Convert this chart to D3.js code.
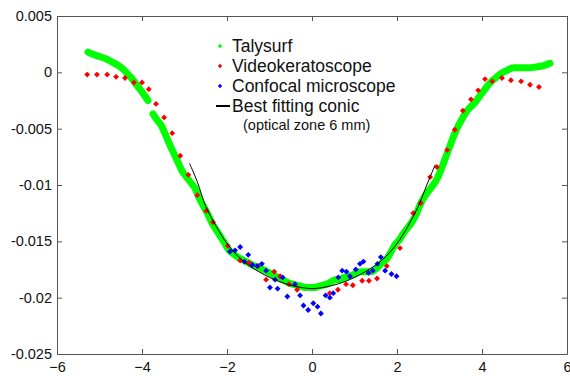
<!DOCTYPE html>
<html>
<head>
<meta charset="utf-8">
<script src="https://cdn.jsdelivr.net/npm/d3@7"></script>
<style>
  body { margin: 0; background: #fff; }
  svg text { font-family: "Liberation Sans", Arial, sans-serif; fill: #111; }
</style>
</head>
<body>
<div id="viz"></div>
<script>
// Talysurf profile (null y = break in the trace)
const talysurfX = [-5.27, -5.15, -5.0, -4.85, -4.7, -4.55, -4.45, -4.35, -4.25, -4.15, -4.05, -3.95, -3.86, null,
  -3.74, -3.65, -3.55, -3.45, -3.35, -3.25, -3.15, -3.05, -2.95, -2.85, -2.75, -2.65, -2.55, -2.45, -2.35, -2.25,
  -2.15, -2.05, -1.95, -1.85, -1.75, -1.65, -1.55, -1.45, -1.35, -1.25, -1.15, -1.05, -0.95, -0.85, -0.75, -0.65,
  -0.55, -0.45, -0.35, -0.25, -0.15, -0.05, 0.05, 0.15, 0.25, 0.35, 0.45, 0.55, 0.65, 0.75, 0.85, 0.95, 1.05, 1.15,
  1.25, 1.35, 1.45, 1.55, 1.65, 1.75, 1.85, 1.95, 2.05, 2.15, 2.25, 2.35, 2.45, 2.55, 2.65, 2.75, 2.85, 2.95, 3.05,
  3.15, 3.25, 3.35, 3.45, 3.55, 3.65, 3.75, 3.85, 3.95, 4.05, 4.15, 4.25, 4.35, 4.45, 4.55, 4.65, 4.75, 4.9, 5.1,
  5.3, 5.45, 5.6];
const talysurfY = [0.0018, 0.0016, 0.0014, 0.0012, 0.0009, 0.0006, 0.0003, -0.0001, -0.0005, -0.0010, -0.0015, -0.0020, -0.0025, null,
  -0.0037, -0.0042, -0.0047, -0.0055, -0.0064, -0.0072, -0.0080, -0.0088, -0.0093, -0.0098, -0.0103, -0.0112, -0.0119, -0.0126, -0.0134, -0.0140,
  -0.0146, -0.0152, -0.0158, -0.0161, -0.0164, -0.0166, -0.0168, -0.0170, -0.0172, -0.0173, -0.0175, -0.0177, -0.0179, -0.0181, -0.0183, -0.0185,
  -0.0187, -0.0188, -0.0189, -0.0190, -0.0191, -0.0191, -0.0191, -0.0190, -0.0189, -0.0188, -0.0186, -0.0184, -0.0184, -0.0182, -0.0181, -0.0180, -0.0178, -0.0177,
  -0.0177, -0.0177, -0.0176, -0.0173, -0.0169, -0.0166, -0.0160, -0.0153, -0.0149, -0.0143, -0.0138, -0.0133, -0.0126, -0.0117, -0.0110, -0.0105, -0.0100, -0.0094, -0.0085,
  -0.0075, -0.0065, -0.0055, -0.0047, -0.0040, -0.0034, -0.0030, -0.0026, -0.0021, -0.0016, -0.0011, -0.0007, -0.0004, -0.0001, 0.0001, 0.0003, 0.0004, 0.0004, 0.0004,
  0.0005, 0.0006, 0.0008];

// Videokeratoscope
const videoX = [-5.29, -5.06, -4.82, -4.61, -4.4, -4.19, -4.0, -3.84, -3.67, -3.48, -3.29, -3.1, -2.91, -2.7, -2.49, -2.33,
  -1.98, -1.69, -1.48, -1.27, -1.08, -0.89, -0.75, -0.54, -0.35, 0.42, 0.61, 0.8, 0.96, 1.18, 1.34, 1.53, 1.76,
  2.07, 2.38, 2.56, 2.78, 2.94, 3.18, 3.36, 3.55, 3.74, 3.91, 4.07, 4.24, 4.47, 4.68, 4.92, 5.13, 5.34];
const videoY = [-0.0002, -0.0002, -0.0002, -0.0004, -0.0005, -0.0009, -0.0009, -0.0015, -0.0028, -0.0040, -0.0054, -0.0074, -0.0091, -0.0109, -0.0123, -0.0133,
  -0.0154, -0.0167, -0.0169, -0.0172, -0.0184, -0.0177, -0.0181, -0.0188, -0.0193, -0.0196, -0.0193, -0.0188, -0.0189, -0.0185, -0.0185, -0.0183, -0.0172,
  -0.0156, -0.0125, -0.0116, -0.0093, -0.0084, -0.0069, -0.0051, -0.0034, -0.0024, -0.0016, -0.0006, -0.0008, -0.0005, -0.0007, -0.0008, -0.0011, -0.0013];

// Confocal microscope
const confocalX = [-1.93, -1.81, -1.69, -1.5, -1.59, -1.4, -1.29, -1.18, -1.08, -0.99, -0.81, -0.87, -0.69, -0.58, -0.4,
  -0.28, -0.2, -0.09, 0.03, 0.13, 0.21, 0.32, 0.42, 0.5, 0.62, 0.71, 0.81, 0.89, 1.03, 1.13, 1.21, 1.33, 1.43, 1.54,
  1.62, 1.72, 1.87, 1.99];
const confocalY = [-0.0159, -0.0158, -0.0155, -0.0162, -0.0168, -0.0171, -0.0172, -0.0170, -0.0176, -0.0191, -0.0192, -0.0184, -0.0182, -0.0199, -0.0188,
  -0.0198, -0.0207, -0.0211, -0.0205, -0.0208, -0.0214, -0.0198, -0.0200, -0.0196, -0.0182, -0.0176, -0.0177, -0.0181, -0.0175, -0.0170, -0.0168, -0.0178, -0.0176, -0.0170,
  -0.0164, -0.0176, -0.0179, -0.0181];

// Best fitting conic
const conicX = [-2.88, -2.7, -2.5, -2.25, -2.0, -1.75, -1.5, -1.25, -1.0, -0.75, -0.5, -0.25, 0, 0.25, 0.5, 0.75, 1.0,
  1.25, 1.5, 1.75, 2.0, 2.25, 2.5, 2.7, 2.9];
const conicY = [-0.0081, -0.0097, -0.0119, -0.0137, -0.0152, -0.0163, -0.0171, -0.0177, -0.0182, -0.0186, -0.0189, -0.0191, -0.0192, -0.0191, -0.0189, -0.0186, -0.0182,
  -0.0177, -0.0171, -0.0163, -0.0152, -0.0137, -0.0119, -0.0100, -0.0082];

const xTicks = [-6, -4, -2, 0, 2, 4, 6];
const yTicks = [0.005, 0, -0.005, -0.01, -0.015, -0.02, -0.025];
const yTickLabels = ['0.005', '0', '-0.005', '-0.01', '-0.015', '-0.02', '-0.025'];
const legendLabels = ['Talysurf', 'Videokeratoscope', 'Confocal microscope', 'Best fitting conic'];
const legendColors = ['#00ff00', '#ff0000', '#0000ff', '#000000'];
const legendNote = '(optical zone 6 mm)';

const width = 570, height = 376;
const margin = { top: 16, right: 3, bottom: 22, left: 57 };

const svg = d3.select('#viz').append('svg')
  .attr('width', width)
  .attr('height', height);

const xScale = d3.scaleLinear().domain([-6, 6]).range([margin.left, width - margin.right]);
const yScale = d3.scaleLinear().domain([-0.025, 0.005]).range([height - margin.bottom, margin.top]);

const zip = (xs, ys) => xs.map((x, i) => ({ x: x, y: ys[i] }));

// Talysurf as a thick band
const tLine = d3.line()
  .defined(d => d.y !== null)
  .x(d => xScale(d.x))
  .y(d => yScale(d.y))
  .curve(d3.curveMonotoneX);

svg.append('path')
  .datum(zip(talysurfX, talysurfY))
  .attr('d', tLine)
  .style('fill', 'none')
  .style('stroke', '#00ff00')
  .style('stroke-width', 7)
  .style('stroke-linecap', 'round')
  .style('stroke-linejoin', 'round');

const diamond = d3.symbol().type(d3.symbolDiamond2).size(22);

svg.append('g').selectAll('path')
  .data(zip(videoX, videoY))
  .enter().append('path')
  .attr('d', diamond)
  .attr('transform', d => `translate(${xScale(d.x)},${yScale(d.y)})`)
  .style('fill', '#ff0000');

svg.append('g').selectAll('path')
  .data(zip(confocalX, confocalY))
  .enter().append('path')
  .attr('d', diamond)
  .attr('transform', d => `translate(${xScale(d.x)},${yScale(d.y)})`)
  .style('fill', '#0000ff');

svg.append('path')
  .datum(zip(conicX, conicY))
  .attr('d', d3.line().x(d => xScale(d.x)).y(d => yScale(d.y)).curve(d3.curveCatmullRom))
  .style('fill', 'none')
  .style('stroke', '#000')
  .style('stroke-width', 1);

// Axes, Matlab style box with inward ticks
const axisColor = '#555';
const gx = svg.append('g')
  .attr('transform', `translate(0, ${height - margin.bottom})`)
  .call(d3.axisBottom(xScale).tickValues(xTicks).tickSize(-5).tickSizeOuter(0).tickPadding(8));
const gy = svg.append('g')
  .attr('transform', `translate(${margin.left}, 0)`)
  .call(d3.axisLeft(yScale).tickValues(yTicks).tickSize(-5).tickSizeOuter(0).tickPadding(5)
    .tickFormat((d, i) => yTickLabels[i]));
const gt = svg.append('g')
  .attr('transform', `translate(0, ${margin.top})`)
  .call(d3.axisTop(xScale).tickValues(xTicks).tickSize(-5).tickSizeOuter(0).tickFormat(''));
const gr = svg.append('g')
  .attr('transform', `translate(${width - margin.right}, 0)`)
  .call(d3.axisRight(yScale).tickValues(yTicks).tickSize(-5).tickSizeOuter(0).tickFormat(''));

[gx, gy, gt, gr].forEach(g => {
  g.selectAll('.domain').style('stroke', axisColor);
  g.selectAll('.tick line').style('stroke', axisColor);
  g.selectAll('text').style('font-size', '14.5px').style('font-family', '"Liberation Sans", Arial, sans-serif').style('fill', '#111');
});

// Legend
const legend = svg.append('g').attr('transform', 'translate(220, 46)');
const item = legend.selectAll('.legend-item')
  .data(legendLabels)
  .enter().append('g')
  .attr('class', 'legend-item')
  .attr('transform', (d, i) => `translate(0, ${i * 20})`);

item.filter((d, i) => i < 3).append('path')
  .attr('d', d3.symbol().type(d3.symbolDiamond2).size(12))
  .style('fill', (d, i) => legendColors[i]);

item.filter((d, i) => i === 3).append('line')
  .attr('x1', -4).attr('x2', 10)
  .attr('y1', 0).attr('y2', 0)
  .style('stroke', '#000')
  .style('stroke-width', 2);

item.append('text')
  .attr('x', 12)
  .attr('y', 6)
  .text(d => d)
  .style('font-size', '17.5px');

legend.append('text')
  .attr('x', 23)
  .attr('y', 84)
  .text(legendNote)
  .style('font-size', '14.5px');
</script>
</body>
</html>
